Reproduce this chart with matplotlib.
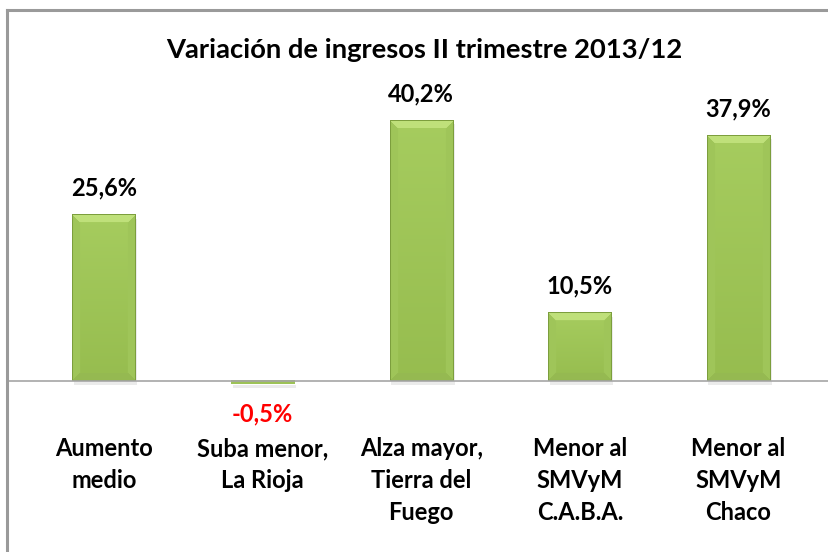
import numpy as np
import matplotlib.pyplot as plt
from matplotlib.patches import Rectangle

categories = ["Aumento\nmedio", "Suba menor,\nLa Rioja", "Alza mayor,\nTierra del\nFuego",
              "Menor al\nSMVyM\nC.A.B.A.", "Menor al\nSMVyM\nChaco"]
values = [25.6, -0.5, 40.2, 10.5, 37.9]
value_labels = ["25,6%", "-0,5%", "40,2%", "10,5%", "37,9%"]
title = "Variación de ingresos II trimestre 2013/12"

plt.rcParams['font.family'] = ['Lato', 'DejaVu Sans']

fig = plt.figure(figsize=(8.29, 5.52), dpi=100)
W, H = 829, 552

# outer chart border (only top and left visible in the crop)
fig.add_artist(plt.Line2D([7 / W, 7 / W], [0, 1 - 10 / H], color='#9a9a9a', lw=2.2,
                          transform=fig.transFigure))
fig.add_artist(plt.Line2D([7 / W, 1], [1 - 10 / H, 1 - 10 / H], color='#9a9a9a', lw=2.2,
                          transform=fig.transFigure))

ax = fig.add_axes([7 / W, 1 - 400 / H, 822 / W, 300 / H])
x = np.arange(len(values))
xlim = (-0.612, 4.571)
ylim = (-(400 - 381) / 6.49, (381 - 100) / 6.49)
ax.set_xlim(xlim)
ax.set_ylim(ylim)
ax.axis('off')

base = np.array([0.65, 0.80, 0.37])
light = np.array([0.75, 0.88, 0.48])
dark = np.array([0.49, 0.62, 0.24])

bars = ax.bar(x, values, width=0.40, color=base, edgecolor='none', zorder=2)
fig.canvas.draw()
for b in bars:
    x0, y0 = b.get_x(), b.get_y()
    w, h = b.get_width(), b.get_height()
    ylo, yhi = min(y0, y0 + h), max(y0, y0 + h)
    p0 = ax.transData.transform((x0, ylo))
    p1 = ax.transData.transform((x0 + w, yhi))
    wp = max(int(round(p1[0] - p0[0])), 2)
    hp = max(int(round(p1[1] - p0[1])), 2)
    img = np.tile(base, (hp, wp, 1))
    bev = 8
    if hp > 2 * bev:
        xx = np.arange(wp)[None, :].repeat(hp, 0)
        yy = np.arange(hp)[:, None].repeat(wp, 1)  # 0 = top row
        dl, dr, dt, db = xx, wp - 1 - xx, yy, hp - 1 - yy
        m = np.minimum(np.minimum(dl, dr), np.minimum(dt, db))
        edge = m < bev
        top = edge & (dt == m)
        side = edge & ~top
        img[top] = light
        img[side] = base * 0.85 + dark * 0.15
        bottom = edge & (db == m) & ~top
        img[bottom] = base * 0.6 + dark * 0.4
        shade = np.linspace(0, 0.06, hp)[:, None, None]
        img = np.clip(img - shade * ~edge[..., None], 0, 1)
        rim = m < 1
        img[rim] = dark
    else:
        img[:] = base * 0.8 + dark * 0.2
    ax.imshow(img, extent=(x0, x0 + w, ylo, yhi), aspect='auto', zorder=3,
              interpolation='bilinear')
    # soft shadow
    ax.add_patch(Rectangle((x0 + 0.01, ylo - 0.6), w, yhi - ylo, color='#000000',
                           alpha=0.08, lw=0, zorder=1))

ax.set_xlim(xlim)
ax.set_ylim(ylim)
ax.axhline(0, color='#a6a6a6', lw=1.2, zorder=4)

for xi, v, lab in zip(x, values, value_labels):
    if v >= 0:
        ax.annotate(lab, (xi, v), xytext=(0, 13.7), textcoords='offset points',
                    ha='center', va='baseline', fontsize=17, fontweight='bold', color='black')
    else:
        ax.annotate(lab, (xi, v), xytext=(0, -27), textcoords='offset points',
                    ha='center', va='baseline', fontsize=17, fontweight='bold', color='#ff0000')

# category labels, one line at a time (baselines 32 px apart)
for xi, cat in zip(x, categories):
    for i, line in enumerate(cat.split('\n')):
        ax.annotate(line, (xi, 0), xycoords=('data', 'axes fraction'),
                    xytext=(0, -(456 - 400 + 32 * i) * 0.72), textcoords='offset points',
                    ha='center', va='baseline', fontsize=17, fontweight='bold')

fig.text(424 / W, 1 - 58 / H, title, ha='center', va='baseline', fontsize=19.7,
         fontweight='bold')

fig.savefig('out.png', dpi=100)
